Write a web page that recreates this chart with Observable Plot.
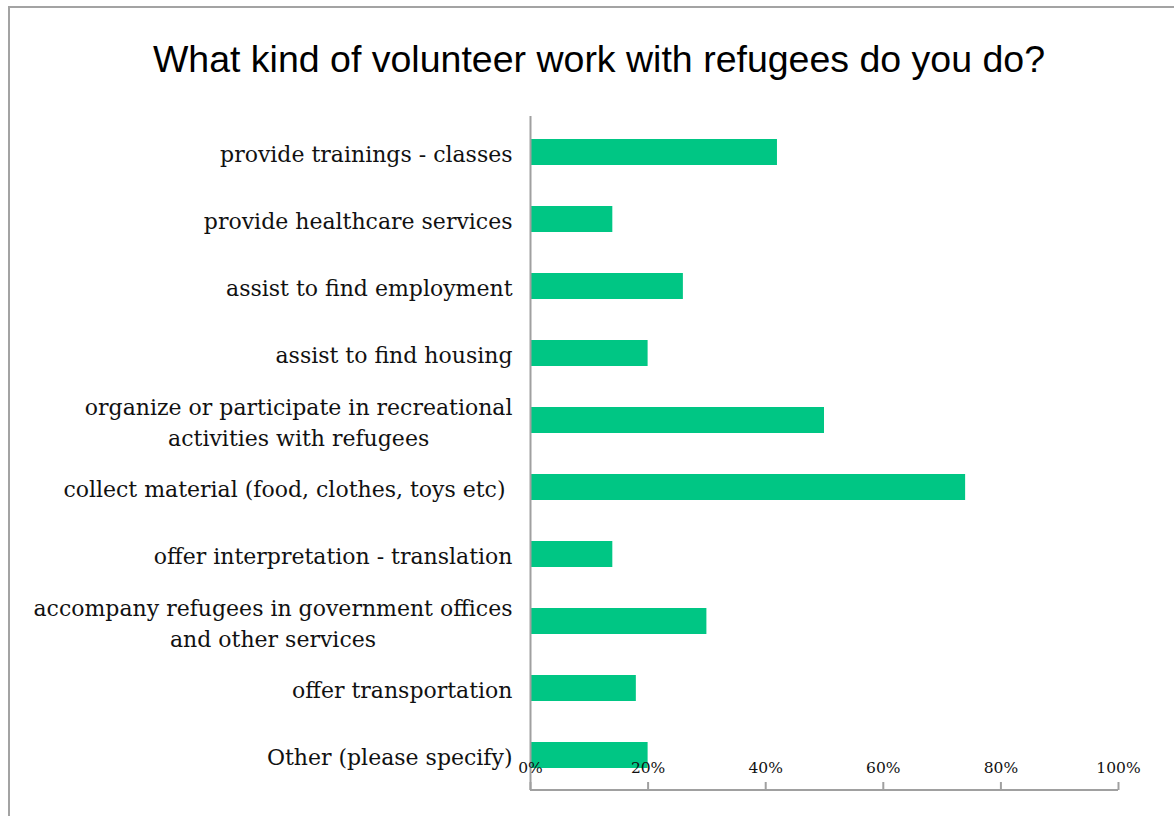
<!DOCTYPE html>
<html><head><meta charset="utf-8">
<script src="https://cdn.jsdelivr.net/npm/d3@7"></script>
<script src="https://cdn.jsdelivr.net/npm/@observablehq/plot@0.6"></script>
<style>
html,body{margin:0;padding:0;background:#fff;overflow:hidden;}
#wrap{position:relative;width:1174px;height:816px;overflow:hidden;background:#fff;}
#border{position:absolute;left:8px;top:6px;width:1400px;height:1200px;border:2px solid #a3a3a3;box-sizing:border-box;}
#title{position:absolute;left:0;width:1198px;top:39px;line-height:40px;text-align:center;font-family:"Liberation Sans",Arial,sans-serif;font-size:37.5px;color:#000;white-space:nowrap;}
#chart{position:absolute;left:0;top:100px;}
</style>
</head><body>
<div id="wrap">
  <div id="border"></div>
  <div id="title">What kind of volunteer work with refugees do you do?</div>
  <div id="chart"></div>
</div>
<script>
const categories = [
  "provide trainings - classes",
  "provide healthcare services",
  "assist to find employment",
  "assist to find housing",
  "organize or participate in recreational\nactivities with refugees",
  "collect material (food, clothes, toys etc)\u00a0",
  "offer interpretation - translation",
  "accompany refugees in government offices\nand other services",
  "offer transportation",
  "Other (please specify)"
];
const values = [42, 14, 26, 20, 50, 74, 14, 30, 18, 20];
const xTicks = [0, 20, 40, 60, 80, 100];

const data = categories.map((c, i) => ({label: c, value: values[i]}));

const W = 1174, H = 716, MT = 16, MB = 26, ML = 530, MR = 56;
const FH = H - MT - MB;
const axisGray = "#a0a0a0";

const chart = Plot.plot({
  width: W, height: H,
  marginTop: MT, marginBottom: MB, marginLeft: ML, marginRight: MR,
  style: {background: "transparent", overflow: "visible"},
  x: {domain: [0, 100], axis: null},
  y: {domain: categories, paddingInner: 0.614, paddingOuter: 0.307, axis: null},
  marks: [
    Plot.barX(data, {x: "value", y: "label", fill: "#00c684"}),
    Plot.ruleX([0], {stroke: axisGray, strokeWidth: 2}),
    Plot.rect([{a: 0, b: 100}], {x1: "a", x2: "b", fill: axisGray, insetTop: FH - 1, insetBottom: -1}),
    Plot.ruleX(xTicks, {x: d => d, stroke: axisGray, strokeWidth: 2, insetTop: FH - 8}),
    Plot.text(xTicks, {x: d => d, text: d => d + "%", frameAnchor: "bottom", dy: -18,
      fontSize: 15.5, fontFamily: "DejaVu Serif", fill: "#111"}),
    Plot.axisY({tickSize: 0, tickPadding: 18, fontSize: 22, fontFamily: "DejaVu Serif",
      lineHeight: 1.4, fill: "#111", label: null})
  ]
});
document.getElementById("chart").appendChild(chart);

// centre multi-line category labels within their right-aligned block (as in the original)
const svg = chart.tagName.toLowerCase() === "svg" ? chart : chart.querySelector("svg");
svg.querySelectorAll('g[aria-label="y-axis tick label"] text').forEach(t => {
  const spans = t.querySelectorAll("tspan");
  if (spans.length < 2) return;
  let w = 0;
  spans.forEach(s => { w = Math.max(w, s.getComputedTextLength()); });
  t.setAttribute("text-anchor", "middle");
  spans.forEach(s => s.setAttribute("x", -w / 2));
});
</script>
</body></html>
